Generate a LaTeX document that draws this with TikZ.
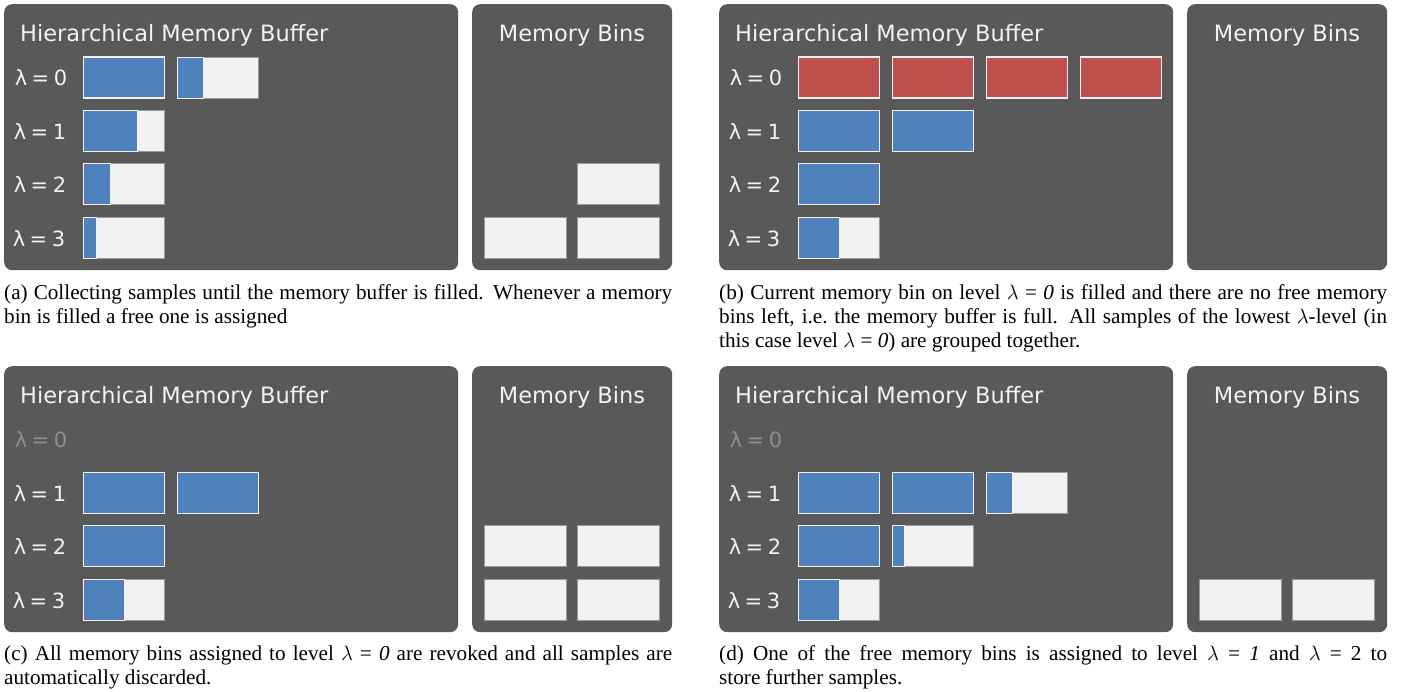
\documentclass[tikz,border=0pt]{standalone}
\usepackage{fontspec}
\setmainfont{Liberation Serif}
\newfontfamily\dejavu{DejaVu Sans}
\definecolor{panelbg}{HTML}{595959}
\definecolor{barblue}{HTML}{4F81BD}
\definecolor{barred}{HTML}{C0504D}
\definecolor{binempty}{HTML}{F2F2F2}
\definecolor{binedge}{HTML}{9A9A9A}
\definecolor{txtlight}{HTML}{F2F2F2}
\definecolor{txtdim}{HTML}{8F8F8F}
\hyphenpenalty=10000
\tikzset{
  panel/.style={fill=panelbg, rounded corners=8pt, draw=none, inner sep=0pt, anchor=north west},
  emptybox/.style={fill=binempty, draw=binedge, line width=0.8pt, inner sep=0pt, minimum width=81.5pt, minimum height=41pt},
  fullbox/.style={draw=txtlight, line width=1.2pt, inner sep=0pt, minimum width=81.5pt, minimum height=41pt},
  fillpart/.style={draw=txtlight, line width=0.8pt, inner sep=0pt, minimum height=41pt},
  titletxt/.style={text=txtlight, font=\dejavu\fontsize{22.5}{27}\selectfont, inner sep=0pt},
  lbl/.style={text=txtlight, font=\dejavu\fontsize{21}{26}\selectfont, inner sep=0pt, anchor=base},
  lbldim/.style={lbl, text=txtdim},
  captxt/.style={font=\fontsize{21.2}{24}\selectfont, text width=668pt, align=justify, inner sep=0pt, anchor=base west}
}
\newcommand{\slotbox}[5]{%
  \node[emptybox] (#1) at (#2,#3) {};
  \node[fillpart, fill=#5, minimum width=#4*81.5pt, anchor=west] (#1f) at (#1.west) {};}
\newcommand{\fullbar}[4]{\node[fullbox, fill=#4] (#1) at (#2,#3) {};}
\newcommand{\freebin}[3]{\node[emptybox] (#1) at (#2,#3) {};}
\newcommand{\lam}[1]{λ\hspace{4.5pt}=\hspace{4.5pt}#1}
\begin{document}
\begin{tikzpicture}[x=1pt, y=-1pt]
\useasboundingbox (0,0) rectangle (1406,692);
% ---------- panel (a)
\node[panel, minimum width=454pt, minimum height=266pt] (abuf) at (4,4) {};
\node[panel, minimum width=200pt, minimum height=266pt] (abins) at (472,4) {};
\node[titletxt, anchor=base west] (atitle) at (20,41.5) {Hierarchical Memory Buffer};
\node[titletxt, anchor=base] (abtitle) at (572,41.5) {Memory Bins};
\node[lbl] (al0) at (41,86) {\lam{0}};
\node[lbl] (al1) at (40,139.4) {\lam{1}};
\node[lbl] (al2) at (40,192.8) {\lam{2}};
\node[lbl] (al3) at (39,246.2) {\lam{3}};
\fullbar{a00}{124}{77.5}{barblue}
\slotbox{a01}{218}{77.5}{0.32}{barblue}
\slotbox{a10}{124}{130.9}{0.66}{barblue}
\slotbox{a20}{124}{184.3}{0.33}{barblue}
\slotbox{a30}{124}{237.7}{0.16}{barblue}
\freebin{abin1}{618.5}{184.3}
\freebin{abin2}{525.5}{237.7}
\freebin{abin3}{618.5}{237.7}
\node[captxt] (acap) at (4,300) {(a) Collecting samples until the memory buffer is filled. Whenever a memory\linebreak bin is filled a free one is assigned};
% ---------- panel (b)
\node[panel, minimum width=454pt, minimum height=266pt] (bbuf) at (719,4) {};
\node[panel, minimum width=200pt, minimum height=266pt] (bbins) at (1187,4) {};
\node[titletxt, anchor=base west] (btitle) at (735,41.5) {Hierarchical Memory Buffer};
\node[titletxt, anchor=base] (bbtitle) at (1287,41.5) {Memory Bins};
\node[lbl] (bl0) at (756,86) {\lam{0}};
\node[lbl] (bl1) at (755,139.4) {\lam{1}};
\node[lbl] (bl2) at (755,192.8) {\lam{2}};
\node[lbl] (bl3) at (754,246.2) {\lam{3}};
\fullbar{b00}{839}{77.5}{barred}
\fullbar{b01}{933}{77.5}{barred}
\fullbar{b02}{1027}{77.5}{barred}
\fullbar{b03}{1121}{77.5}{barred}
\fullbar{b10}{839}{130.9}{barblue}
\fullbar{b11}{933}{130.9}{barblue}
\fullbar{b20}{839}{184.3}{barblue}
\slotbox{b30}{839}{237.7}{0.5}{barblue}
\node[captxt] (bcap) at (719,300) {(b) Current memory bin on level $\lambda$ = \textit{0} is filled and there are no free memory\linebreak bins left, i.e.\ the memory buffer is full. All samples of the lowest $\lambda$-level (in\linebreak this case level $\lambda$ = \textit{0}) are grouped together.};
% ---------- panel (c)
\node[panel, minimum width=454pt, minimum height=266pt] (cbuf) at (4,366) {};
\node[panel, minimum width=200pt, minimum height=266pt] (cbins) at (472,366) {};
\node[titletxt, anchor=base west] (ctitle) at (20,403.5) {Hierarchical Memory Buffer};
\node[titletxt, anchor=base] (cbtitle) at (572,403.5) {Memory Bins};
\node[lbldim] (cl0) at (41,448) {\lam{0}};
\node[lbl] (cl1) at (40,501.4) {\lam{1}};
\node[lbl] (cl2) at (40,554.8) {\lam{2}};
\node[lbl] (cl3) at (39,608.2) {\lam{3}};
\fullbar{c10}{124}{492.9}{barblue}
\fullbar{c11}{218}{492.9}{barblue}
\fullbar{c20}{124}{546.3}{barblue}
\slotbox{c30}{124}{599.7}{0.5}{barblue}
\freebin{cbin1}{525.5}{546.3}
\freebin{cbin2}{618.5}{546.3}
\freebin{cbin3}{525.5}{599.7}
\freebin{cbin4}{618.5}{599.7}
\node[captxt] (ccap) at (4,660) {(c) All memory bins assigned to level $\lambda$ = \textit{0} are revoked and all samples are\linebreak automatically discarded.};
% ---------- panel (d)
\node[panel, minimum width=454pt, minimum height=266pt] (dbuf) at (719,366) {};
\node[panel, minimum width=200pt, minimum height=266pt] (dbins) at (1187,366) {};
\node[titletxt, anchor=base west] (dtitle) at (735,403.5) {Hierarchical Memory Buffer};
\node[titletxt, anchor=base] (dbtitle) at (1287,403.5) {Memory Bins};
\node[lbldim] (dl0) at (756,448) {\lam{0}};
\node[lbl] (dl1) at (755,501.4) {\lam{1}};
\node[lbl] (dl2) at (755,554.8) {\lam{2}};
\node[lbl] (dl3) at (754,608.2) {\lam{3}};
\fullbar{d10}{839}{492.9}{barblue}
\fullbar{d11}{933}{492.9}{barblue}
\slotbox{d12}{1027}{492.9}{0.32}{barblue}
\fullbar{d20}{839}{546.3}{barblue}
\slotbox{d21}{933}{546.3}{0.15}{barblue}
\slotbox{d30}{839}{599.7}{0.5}{barblue}
\freebin{dbin1}{1240.5}{599.7}
\freebin{dbin2}{1333.5}{599.7}
\node[captxt] (dcap) at (719,660) {(d) One of the free memory bins is assigned to level $\lambda$ = \textit{1} and $\lambda$ = 2 to\linebreak store further samples.};
\end{tikzpicture}
\end{document}
